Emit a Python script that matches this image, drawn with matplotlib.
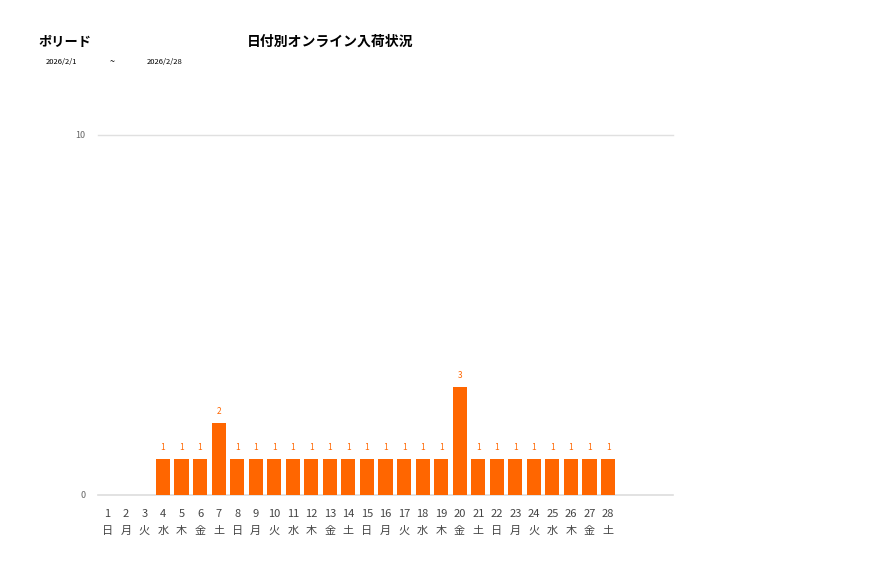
import matplotlib
matplotlib.use('Agg')
import matplotlib.pyplot as plt

plt.rcParams['font.family'] = ['Noto Sans CJK JP', 'DejaVu Sans']

# data
days = list(range(1, 32))
weekdays = ['日', '月', '火', '水', '木', '金', '土'] * 4
counts = [0, 0, 0, 1, 1, 1, 2, 1, 1, 1, 1, 1, 1, 1,
          1, 1, 1, 1, 1, 3, 1, 1, 1, 1, 1, 1, 1, 1]
shop = 'ポリード'
title = '日付別オンライン入荷状況'
date_from = '2026/2/1'
date_to = '2026/2/28'

W, H = 877, 578
fig = plt.figure(figsize=(W / 100, H / 100), dpi=100)
ax = fig.add_axes([98 / W, 1 - 495 / H, (673 - 98) / W, (495 - 135) / H])

orange = '#ff6600'
x = list(range(len(days)))
bars = ax.bar(x[:len(counts)], counts, width=0.76, color=orange, zorder=3)
for i, v in enumerate(counts):
    if v > 0:
        ax.text(i, v + 0.2, str(v), ha='center', va='bottom', fontsize=6, color=orange)

ax.set_xlim(-0.5, len(days) - 0.5)
ax.set_ylim(0, 10)
ax.set_yticks([0, 10])
ax.set_yticklabels(['0', '10'], fontsize=6.5, color='#666666')
ax.axhline(10, color='#e0e0e0', linewidth=1, zorder=0, clip_on=False)
ax.axhline(0, color='#dddddd', linewidth=1.2, zorder=2, clip_on=False)
ax.set_xticks(x[:len(counts)])
ax.set_xticklabels([f'{d}\n{w}' for d, w in zip(days, weekdays)],
                   fontsize=8, color='#444444', linespacing=1.9)
ax.tick_params(length=0, pad=10)
ax.tick_params(axis='y', pad=9)
for s in ax.spines.values():
    s.set_visible(False)

fig.text(38 / W, 1 - 42 / H, shop, fontsize=9.5, fontweight='bold', va='center')
fig.text(247 / W, 1 - 42 / H, title, fontsize=10, fontweight='bold', va='center')
fig.text(46 / W, 1 - 62 / H, date_from, fontsize=5.5, va='center')
fig.text(110 / W, 1 - 62 / H, '~', fontsize=6.5, va='center')
fig.text(147 / W, 1 - 62 / H, date_to, fontsize=5.5, va='center')

fig.savefig('out.png', dpi=100)
